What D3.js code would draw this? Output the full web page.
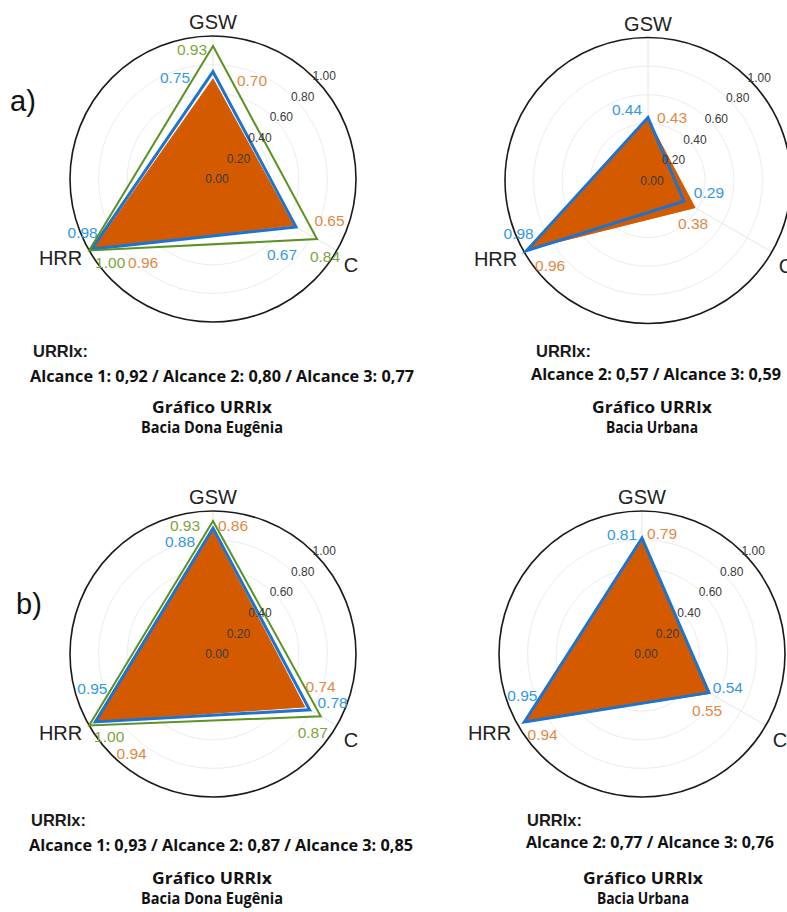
<!DOCTYPE html>
<html><head><meta charset="utf-8">
<script src="https://cdn.jsdelivr.net/npm/d3@7"></script>
<style>body{margin:0;background:#fff} svg{display:block;background:#fff}</style>
</head><body><svg id="chart" width="787" height="912"></svg>
<script>
// ---------- DATA ----------
const axisNames = ["GSW", "C", "HRR"];               // clockwise from top
const seriesNames = ["Alcance 1", "Alcance 2", "Alcance 3"];
const tickValues = [0, 0.2, 0.4, 0.6, 0.8, 1.0];
const tickLabels = ["0.00", "0.20", "0.40", "0.60", "0.80", "1.00"];

// values in axis order: GSW, C, HRR
const aEugeniaA1 = [0.93, 0.84, 1.00];
const aEugeniaA2 = [0.75, 0.67, 0.98];
const aEugeniaA3 = [0.70, 0.65, 0.96];
const aUrbanaA2  = [0.44, 0.29, 0.98];
const aUrbanaA3  = [0.43, 0.38, 0.96];
const bEugeniaA1 = [0.93, 0.87, 1.00];
const bEugeniaA2 = [0.88, 0.78, 0.95];
const bEugeniaA3 = [0.86, 0.74, 0.94];
const bUrbanaA2  = [0.81, 0.54, 0.95];
const bUrbanaA3  = [0.79, 0.55, 0.94];

// URRIx summary values
const urrixAEugenia = [["Alcance 1", 0.92], ["Alcance 2", 0.80], ["Alcance 3", 0.77]];
const urrixAUrbana  = [["Alcance 2", 0.57], ["Alcance 3", 0.59]];
const urrixBEugenia = [["Alcance 1", 0.93], ["Alcance 2", 0.87], ["Alcance 3", 0.85]];
const urrixBUrbana  = [["Alcance 2", 0.77], ["Alcance 3", 0.76]];

const basinEugenia = "Bacia Dona Eugênia";
const basinUrbana = "Bacia Urbana";
const chartTitle = "Gráfico URRIx";

// ---------- STYLE / LAYOUT ----------
const styles = {
  "Alcance 1": {stroke: "#5b9221", width: 2, fill: "none", label: "#7ca53c"},
  "Alcance 2": {stroke: "#1c74d0", width: 3, fill: "none", label: "#3399e2"},
  "Alcance 3": {stroke: "#d45a00", width: 1, fill: "#d45a00", label: "#e08a46"}
};
const R = 143;

// label offsets (centre of label relative to vertex), per series, per axis (GSW, C, HRR)
const panels = [
  {tag: "a)", tagPos: [10, 111], cx: 213, cy: 179,
   series: [["Alcance 3", aEugeniaA3], ["Alcance 2", aEugeniaA2], ["Alcance 1", aEugeniaA1]],
   offsets: {"Alcance 1": [[-21, 4], [8, 18], [21, 12]],
             "Alcance 2": [[-38, 6], [-14, 28], [-9, -16]],
             "Alcance 3": [[39, 2], [36, -5], [49, 15]]},
   urrix: urrixAEugenia, basin: basinEugenia,
   text: {hx: 33, hy: 357, ax: 30, ay: 382, aw: 384, tx: 212, ty: 413, by: 433, tw: 120, bw: 142}},
  {tag: null, cx: 648, cy: 180.5,
   series: [["Alcance 3", aUrbanaA3], ["Alcance 2", aUrbanaA2]],
   offsets: {"Alcance 2": [[-21, -8], [25, -9], [-8, -17]],
             "Alcance 3": [[24, -1], [-2, 16], [21, 16]]},
   urrix: urrixAUrbana, basin: basinUrbana,
   text: {hx: 536, hy: 357, ax: 531, ay: 380, aw: 250, tx: 652, ty: 413, by: 433, tw: 120, bw: 92}},
  {tag: "b)", tagPos: [16, 614], cx: 213, cy: 654,
   series: [["Alcance 3", bEugeniaA3], ["Alcance 2", bEugeniaA2], ["Alcance 1", bEugeniaA1]],
   offsets: {"Alcance 1": [[-28, 5], [-8, 16], [20, 11]],
             "Alcance 2": [[-33, 13], [23, -7], [-3, -33]],
             "Alcance 3": [[20, -5], [16, -20], [35, 32]]},
   urrix: urrixBEugenia, basin: basinEugenia,
   text: {hx: 31, hy: 826, ax: 29, ay: 851, aw: 384, tx: 212, ty: 884, by: 904, tw: 120, bw: 142}},
  {tag: null, cx: 642, cy: 654,
   series: [["Alcance 3", bUrbanaA3], ["Alcance 2", bUrbanaA2]],
   offsets: {"Alcance 2": [[-20, -4], [19, -5], [-2, -26]],
             "Alcance 3": [[20, -7], [-3, 17], [17, 13]]},
   urrix: urrixBUrbana, basin: basinUrbana,
   text: {hx: 527, hy: 826, ax: 526, ay: 848, aw: 248, tx: 643, ty: 884, by: 904, tw: 120, bw: 92}}
];

// ---------- DRAW ----------
const svg = d3.select("#chart");
const rScale = d3.scaleLinear().domain([0, 1]).range([0, R]);
const angle = d3.scaleLinear().domain([0, axisNames.length]).range([0, 2 * Math.PI]);
const line = d3.lineRadial()
  .angle((d, i) => angle(i))
  .radius(d => rScale(d))
  .curve(d3.curveLinearClosed);
const fmt = d3.format(".2f");
const fmtComma = v => d3.format(".2f")(v).replace(".", ",");
const sans = "'Liberation Sans', Arial, sans-serif";
const boldFont = "'Open Sans', 'Liberation Sans', sans-serif";

panels.forEach(p => {
  const g = svg.append("g").attr("transform", `translate(${p.cx},${p.cy})`);

  // grid rings
  g.selectAll("circle.grid").data(tickValues.filter(v => v > 0 && v < 1)).join("circle")
    .attr("r", d => rScale(d)).attr("fill", "none")
    .attr("stroke", "#ececec").attr("stroke-width", 1);
  // spokes
  g.selectAll("line.spoke").data(axisNames).join("line")
    .attr("x1", 0).attr("y1", 0)
    .attr("x2", (d, i) => d3.pointRadial(angle(i), rScale(1))[0])
    .attr("y2", (d, i) => d3.pointRadial(angle(i), rScale(1))[1])
    .attr("stroke", "#e6e6e6").attr("stroke-width", 1);
  // outer ring
  g.append("circle").attr("r", rScale(1)).attr("fill", "none")
    .attr("stroke", "#1a1a1a").attr("stroke-width", 1.6);

  // series polygons
  p.series.forEach(([name, vals]) => {
    const s = styles[name];
    g.append("path").attr("d", line(vals))
      .attr("fill", s.fill).attr("stroke", s.stroke)
      .attr("stroke-width", s.width).attr("stroke-linejoin", "miter");
  });

  // radial tick labels
  g.selectAll("text.tick").data(tickValues).join("text")
    .attr("x", d => rScale(d) * 0.75 + 4)
    .attr("y", d => -rScale(d) * 0.72)
    .attr("dy", "0.35em").attr("text-anchor", "middle")
    .attr("font-family", sans).attr("font-size", 12).attr("fill", "#3a3a3a")
    .text((d, i) => tickLabels[i]);

  // value labels
  p.series.forEach(([name, vals]) => {
    const s = styles[name];
    vals.forEach((v, i) => {
      const [vx, vy] = d3.pointRadial(angle(i), rScale(v));
      const off = p.offsets[name][i];
      g.append("text")
        .attr("x", vx + off[0]).attr("y", vy + off[1])
        .attr("dy", "0.35em").attr("text-anchor", "middle")
        .attr("font-family", sans).attr("font-size", 15.5).attr("fill", s.label)
        .text(fmt(v));
    });
  });

  // axis labels
  axisNames.forEach((name, i) => {
    const [ax, ay] = d3.pointRadial(angle(i), rScale(1) + 8);
    const anchor = i === 0 ? "middle" : (i === 1 ? "start" : "end");
    const extraY = i === 0 ? -6 : (i === 1 ? 10 : 3);
    g.append("text").attr("x", ax).attr("y", ay + extraY)
      .attr("dy", "0.35em").attr("text-anchor", anchor)
      .attr("font-family", sans).attr("font-size", 20).attr("fill", "#222")
      .text(name);
  });

  // panel tag
  if (p.tag) {
    svg.append("text").attr("x", p.tagPos[0]).attr("y", p.tagPos[1])
      .attr("font-family", sans).attr("font-size", 29).attr("fill", "#111")
      .text(p.tag);
  }

  // URRIx text block
  const t = p.text;
  svg.append("text").attr("x", t.hx).attr("y", t.hy)
    .attr("font-family", sans).attr("font-weight", "bold").attr("font-size", 16.5)
    .attr("fill", "#1a1a1a").text("URRIx:");
  svg.append("text").attr("x", t.ax).attr("y", t.ay)
    .attr("font-family", boldFont).attr("font-weight", "bold").attr("font-size", 16.5)
    .attr("textLength", t.aw).attr("lengthAdjust", "spacingAndGlyphs")
    .attr("fill", "#111")
    .text(p.urrix.map(([n, v]) => `${n}: ${fmtComma(v)}`).join(" / "));
  svg.append("text").attr("x", t.tx).attr("y", t.ty).attr("text-anchor", "middle")
    .attr("font-family", boldFont).attr("font-weight", "bold").attr("font-size", 15.5)
    .attr("textLength", t.tw).attr("lengthAdjust", "spacingAndGlyphs")
    .attr("fill", "#111").text(chartTitle);
  svg.append("text").attr("x", t.tx).attr("y", t.by).attr("text-anchor", "middle")
    .attr("font-family", boldFont).attr("font-weight", "bold").attr("font-size", 15.5)
    .attr("textLength", t.bw).attr("lengthAdjust", "spacingAndGlyphs")
    .attr("fill", "#111").text(p.basin);
});
</script></body></html>
